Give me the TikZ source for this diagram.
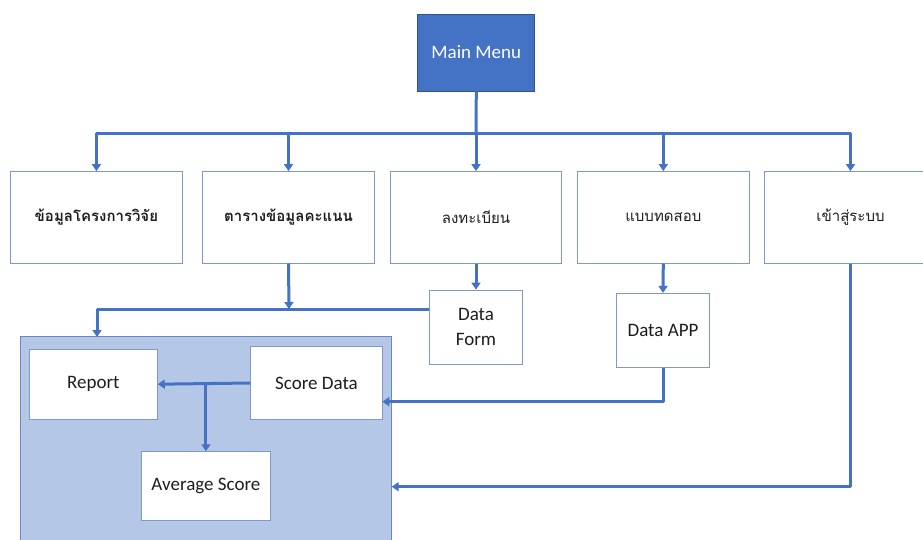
\documentclass[tikz,border=0pt]{standalone}
\usepackage{fontspec}
\setmainfont{Carlito}
\newfontfamily\thaifont[Script=Thai]{Loma}
\usetikzlibrary{arrows.meta}

\definecolor{flow}{HTML}{4472C4}
\definecolor{boxline}{HTML}{7F98CC}
\definecolor{panelfill}{HTML}{B4C7E7}
\definecolor{panelline}{HTML}{6A88C0}
\definecolor{menuline}{HTML}{2F528F}
\definecolor{ink}{HTML}{1E1E1E}

\tikzset{
  x=1pt, y=-1pt,
  boxnode/.style={draw=boxline, line width=0.9pt, fill=white, text=ink,
    inner sep=0pt, align=center, font=\fontsize{19}{25}\selectfont},
  topbox/.style={boxnode, minimum width=171.5pt, minimum height=91.5pt,
    font=\thaifont\fontsize{15}{20}\selectfont},
  menubox/.style={draw=menuline, line width=0.8pt, fill=flow, text=white,
    inner sep=0pt, minimum width=117pt, minimum height=77pt,
    font=\fontsize{19}{22}\selectfont},
  panelbox/.style={draw=panelline, line width=1pt, fill=panelfill, inner sep=0pt},
  link/.style={draw=flow, line width=3pt, line join=round},
  arr/.style={link, -{Triangle[length=7pt,width=9pt]}},
}

\begin{document}
\begin{tikzpicture}
\clip (0,0) rectangle (923,539);
\fill[white] (0,0) rectangle (923,539);

% main menu
\node[menubox] (menu) at (476.3,52.5) {Main Menu};

% first level
\node[topbox] (b1) at (96.4,217.3) {\bfseries ข้อมูลโครงการวิจัย};
\node[topbox] (b2) at (288.5,217.3) {\bfseries ตารางข้อมูลคะแนน};
\node[topbox] (b3) at (476,217.3) {ลงทะเบียน};
\node[topbox] (b4) at (663.3,217.3) {แบบทดสอบ};
\node[topbox] (b5) at (850.5,217.3) {เข้าสู่ระบบ};

% second level
\node[boxnode, minimum width=93.4pt, minimum height=74.3pt] (form) at (476,327.2) {Data\\Form};
\node[boxnode, minimum width=92.6pt, minimum height=74pt] (app) at (663,330.3) {Data APP};

% shaded panel with its contents
\node[panelbox, minimum width=371pt, minimum height=263pt] (panel) at (206.2,468.3) {};
\node[boxnode, minimum width=128pt, minimum height=70.3pt] (report) at (93.3,384.2) {Report};
\node[boxnode, minimum width=131.6pt, minimum height=72.6pt] (score) at (316.5,383) {Score Data};
\node[boxnode, minimum width=128.3pt, minimum height=69pt] (avg) at (205.9,486.2) {Average Score};

% helper points
\coordinate (bus) at (476,133);
\coordinate (join) at (289,309);
\coordinate (formout) at (429.3,309);
\coordinate (drop) at (97,337);
\coordinate (scorein) at (382.3,401.7);
\coordinate (panelin) at (391.7,486.7);
\coordinate (split) at (205.9,384);

% menu distribution
\draw[link] (menu.south) -- (bus);
\draw[link] (b1.north |- bus) -- (b5.north |- bus);
\foreach \b in {b1,b2,b3,b4,b5}
  \draw[arr] (\b.north |- bus) -- (\b.north);

% first level to second level
\draw[arr] (b2.south) -- (join);
\draw[arr] (formout) -| (drop);
\draw[arr] (b3.south) -- (form.north);
\draw[arr] (b4.south) -- (app.north);
\draw[arr] (app.south) |- (scorein);
\draw[arr] (b5.south) |- (panelin);

% inside the panel
\draw[arr] (score.west) -- (report.east);
\draw[arr] (split) -- (avg.north);
\end{tikzpicture}
\end{document}
